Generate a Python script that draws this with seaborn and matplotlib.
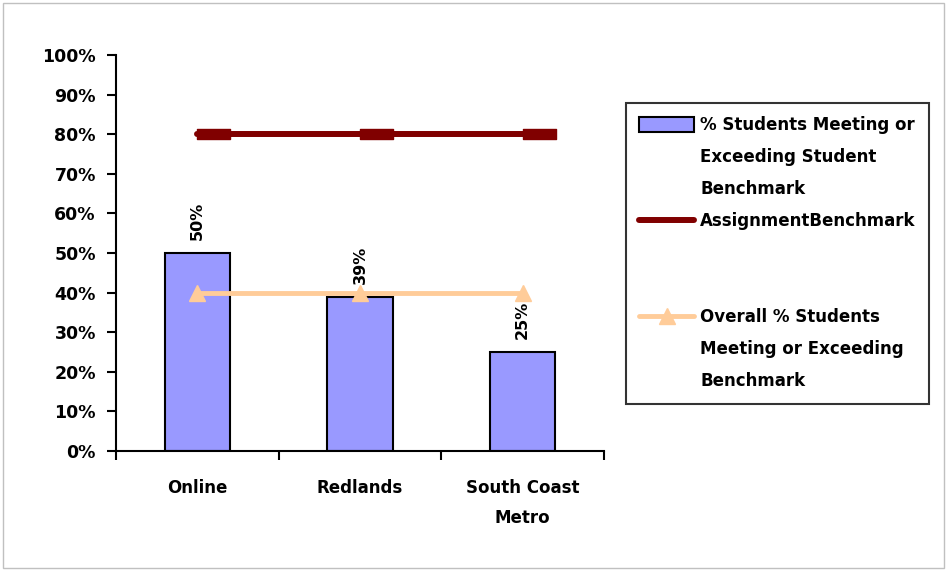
import matplotlib
matplotlib.use("Agg")
import matplotlib.pyplot as plt
import seaborn as sns
import numpy as np
import pandas as pd
from matplotlib.lines import Line2D
from matplotlib.patches import Patch, Rectangle
from matplotlib.markers import MarkerStyle
from matplotlib.path import Path

# ---- data ----
categories = ["Online", "Redlands", "South Coast\nMetro"]
pct_meeting = [0.50, 0.39, 0.25]
assignment_benchmark = [0.80, 0.80, 0.80]
overall_pct = [0.40, 0.40, 0.40]
bar_labels = ["50%", "39%", "25%"]
y_ticks = [0.0, 0.1, 0.2, 0.3, 0.4, 0.5, 0.6, 0.7, 0.8, 0.9, 1.0]
y_tick_labels = ["0%", "10%", "20%", "30%", "40%", "50%", "60%", "70%", "80%", "90%", "100%"]
legend_bar = ["% Students Meeting or", "Exceeding Student", "Benchmark"]
legend_bench = ["AssignmentBenchmark"]
legend_overall = ["Overall % Students", "Meeting or Exceeding", "Benchmark"]

BAR_COLOR = "#9999FF"
BENCH_COLOR = "#800000"
OVERALL_COLOR = "#FFCC99"

sns.set_theme(style="ticks")
plt.rcParams["font.family"] = ["DejaVu Sans"]
plt.rcParams["text.color"] = "black"

fig = plt.figure(figsize=(9.47, 5.71), dpi=100)
ax = fig.add_axes([0.1225, 0.2102, 0.5153, 0.6935])

df = pd.DataFrame({"site": categories, "pct": pct_meeting})
sns.barplot(data=df, x="site", y="pct", color=BAR_COLOR, saturation=1,
            width=0.4, edgecolor="black", linewidth=1.5, ax=ax, zorder=2)

ax.bar_label(ax.containers[0], labels=bar_labels, rotation=90, padding=9,
             fontsize=11.5, fontweight="bold", color="black")

x = np.arange(len(categories))
rect = MarkerStyle(Path([(0, -0.15), (1, -0.15), (1, 0.15), (0, 0.15), (0, -0.15)],
                        [Path.MOVETO, Path.LINETO, Path.LINETO, Path.LINETO, Path.CLOSEPOLY]))
ax.plot(x, assignment_benchmark, color=BENCH_COLOR, lw=4.3, marker=rect,
        markersize=47.5, solid_capstyle="round", zorder=4, clip_on=False)
ax.plot(x, overall_pct, color=OVERALL_COLOR, lw=3.5, marker="^",
        markersize=12, zorder=5, clip_on=False)

ax.set_xlim(-0.5, 2.5)
ax.set_ylim(0, 1)
ax.set_yticks(y_ticks)
ax.set_yticklabels(y_tick_labels, fontsize=12.5, fontweight="bold", color="black")
ax.set_xticks(x)
ax.set_xticklabels(categories, fontsize=12, fontweight="bold", color="black",
                   linespacing=1.85)
ax.set_xticks([-0.5, 0.5, 1.5, 2.5], minor=True)
ax.tick_params(axis="x", which="major", length=0, pad=20)
ax.tick_params(axis="x", which="minor", length=6.5, width=1.5, color="black",
               direction="out", bottom=True)
ax.tick_params(axis="y", which="major", length=6.5, width=1.5, color="black",
               direction="out", pad=8, left=True)
ax.set_xlabel("")
ax.set_ylabel("")
for s in ["top", "right"]:
    ax.spines[s].set_visible(False)
for s in ["left", "bottom"]:
    ax.spines[s].set_color("black")
    ax.spines[s].set_linewidth(1.5)

blank = Line2D([], [], color="none")
handles = [Patch(facecolor=BAR_COLOR, edgecolor="black", linewidth=1.5), blank, blank,
           Line2D([], [], color=BENCH_COLOR, lw=4.3, solid_capstyle="round"),
           blank, blank,
           Line2D([], [], color=OVERALL_COLOR, lw=3.5, marker="^", markersize=12),
           blank, blank]
labels = legend_bar + legend_bench + ["", ""] + legend_overall
leg = fig.legend(handles, labels, loc="upper left",
                 bbox_to_anchor=(626 / 947, 1 - 103 / 571), borderaxespad=0,
                 frameon=True, fancybox=False, shadow=False, edgecolor="black",
                 prop={"size": 12, "weight": "bold"}, handlelength=3.3,
                 handleheight=1.0, handletextpad=0.35, labelspacing=0.84,
                 borderpad=0.8, numpoints=1)
leg.get_frame().set_linewidth(1.5)
for t in leg.get_texts():
    t.set_color("black")

fig.patches.append(Rectangle((3 / 947, 3 / 571), 941 / 947, 565 / 571,
                             transform=fig.transFigure, fill=False,
                             edgecolor="#c0c0c0", lw=1))

fig.savefig("out.png", dpi=100)
